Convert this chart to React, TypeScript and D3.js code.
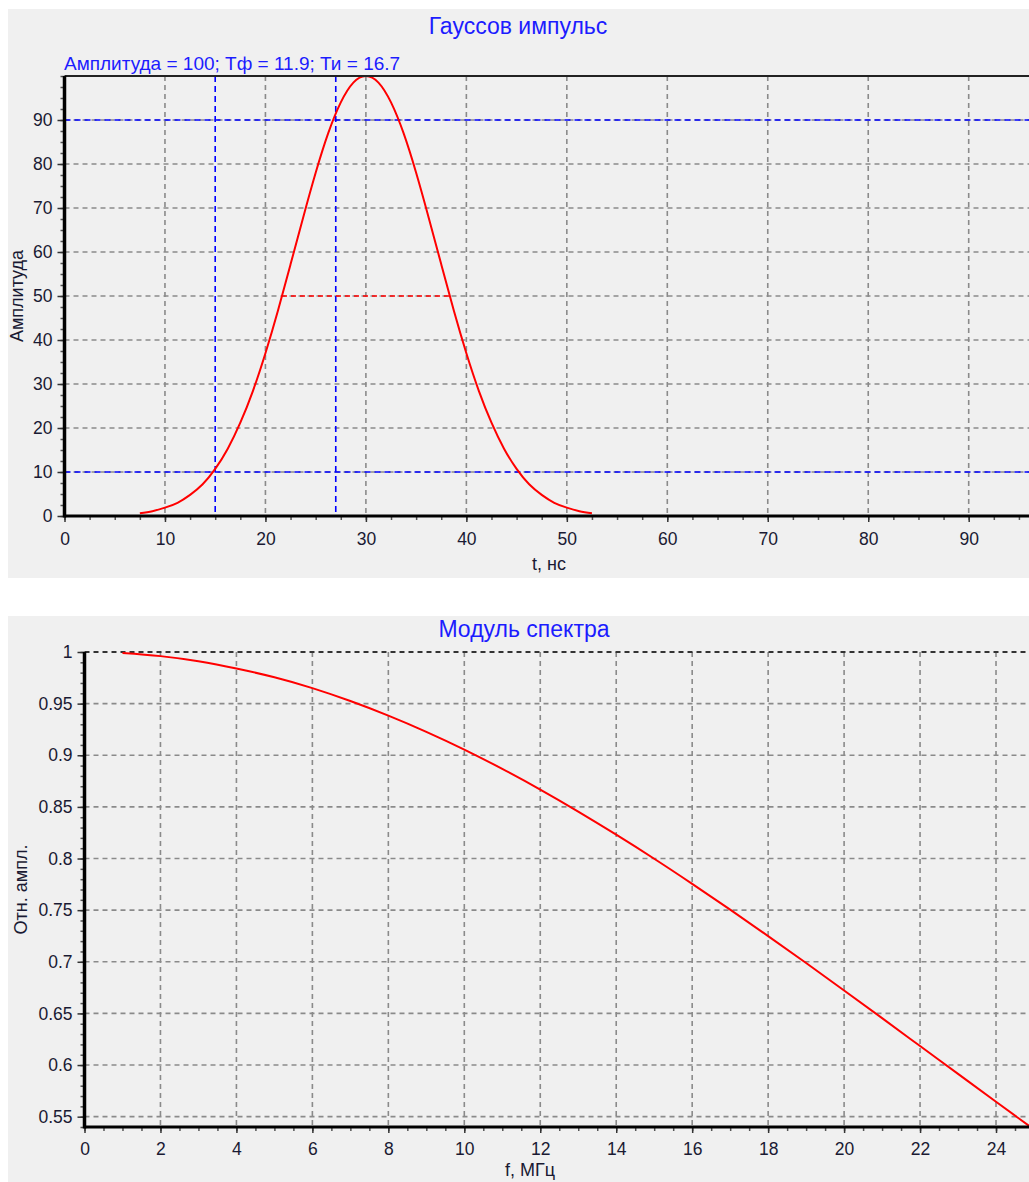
import { useEffect, useRef } from 'react';
import * as d3 from 'd3';

// Gaussian pulse
const pulseTime = [7.5, 8.75, 10, 11.25, 12.5, 13.75, 15, 16.25, 17.5, 18.75, 20, 21.25, 22.5, 23.75, 25, 26.25, 27.5, 28.75, 30,
    31.25, 32.5, 33.75, 35, 36.25, 37.5, 38.75, 40, 41.25, 42.5, 43.75, 45, 46.25, 47.5, 48.75, 50, 51.25, 52.5];
const pulseAmp = [0.65, 1.1, 1.9, 3.0, 4.8, 7.2, 10.7, 15.3, 21.2, 28.4, 37.0, 46.7, 57.2, 67.8, 78.0, 87.0, 94.0, 98.5, 100,
    98.5, 94.0, 87.0, 78.0, 67.8, 57.2, 46.7, 37.0, 28.4, 21.2, 15.3, 10.7, 7.2, 4.8, 3.0, 1.9, 1.1, 0.65];
const pulseXTicks = [0, 10, 20, 30, 40, 50, 60, 70, 80, 90];
const pulseYTicks = [0, 10, 20, 30, 40, 50, 60, 70, 80, 90];
const levelLines = [10, 90];
const levelTimes = [15, 27];
const halfLevel = 50;
const halfTimes = [21.65, 38.35];

// spectrum modulus, lower chart
const specFreq = [1, 2, 3, 4, 5, 6, 7, 8, 9, 10, 11, 12, 13, 14, 15, 16, 17, 18, 19, 20, 21, 22, 23, 24, 25];
const specAmp = [0.999, 0.996, 0.991, 0.984, 0.9755, 0.965, 0.9525, 0.9384, 0.9227, 0.9055, 0.8868, 0.8668, 0.8455, 0.8231,
    0.7998, 0.7755, 0.7505, 0.7249, 0.6988, 0.6722, 0.6454, 0.6184, 0.5914, 0.5644, 0.5376];
const specXTicks = [0, 2, 4, 6, 8, 10, 12, 14, 16, 18, 20, 22, 24];
const specYTicks = [0.55, 0.6, 0.65, 0.7, 0.75, 0.8, 0.85, 0.9, 0.95, 1];

const FONT = '"Liberation Sans", Arial, sans-serif';
const BLUE = '#1c1cff';
const INK = '#1a1a33';
const GRID = '#8a8a8a';

function drawPanel(svg, o) {
    const g = svg.append('g');
    g.append('rect').attr('x', 8).attr('y', o.bgTop).attr('width', 1021).attr('height', o.bgBottom - o.bgTop).attr('fill', '#f0f0f0');

    const x = d3.scaleLinear().domain(o.xDomain).range([o.left, o.right]);
    const y = d3.scaleLinear().domain(o.yDomain).range([o.bottom, o.top]);

    const clipId = 'clip' + o.id;
    g.append('clipPath').attr('id', clipId).append('rect')
        .attr('x', o.left).attr('y', o.top - 2).attr('width', o.right - o.left).attr('height', o.bottom - o.top + 2);

    /** grid */
    g.append('g').selectAll('line').data(o.xTicks.filter(d => d !== o.xDomain[0])).enter().append('line')
        .attr('x1', d => x(d)).attr('x2', d => x(d)).attr('y1', o.top).attr('y2', o.bottom)
        .attr('stroke', GRID).attr('stroke-width', 1.6).attr('stroke-dasharray', '5,4');
    g.append('g').selectAll('line').data(o.yTicks.filter(d => d !== o.yDomain[0])).enter().append('line')
        .attr('x1', o.left).attr('x2', o.right).attr('y1', d => y(d)).attr('y2', d => y(d))
        .attr('stroke', d => d === o.yDomain[1] ? '#333' : GRID).attr('stroke-width', d => d === o.yDomain[1] ? 2 : 1.6)
        .attr('stroke-dasharray', '5,4');

    if (o.extras) o.extras(g, x, y);

    /** curve */
    const line = d3.line().x(d => x(d[0])).y(d => y(d[1])).curve(d3.curveNatural);
    g.append('path').datum(o.xs.map((v, i) => [v, o.ys[i]]))
        .attr('clip-path', `url(#${clipId})`)
        .attr('d', line).attr('fill', 'none').attr('stroke', '#ff0000').attr('stroke-width', 2);

    if (o.topBorder) {
        g.append('line').attr('x1', o.left).attr('x2', o.right).attr('y1', o.top).attr('y2', o.top)
            .attr('stroke', '#222').attr('stroke-width', 2);
    }

    /** Axis */
    const minorX = d3.range(o.xDomain[0], o.xDomain[1], o.xMinor);
    const minorY = d3.range(o.yTicks[0] - o.yMinor * Math.floor((o.yTicks[0] - o.yDomain[0]) / o.yMinor), o.yDomain[1] + 1e-9, o.yMinor);

    const ax = g.append('g').attr('transform', `translate(0,${o.bottom})`)
        .call(d3.axisBottom(x).tickValues(minorX).tickSize(4).tickFormat(() => ''));
    ax.select('.domain').remove();
    ax.selectAll('line').attr('stroke', '#555').attr('stroke-width', 1.5);
    const axM = g.append('g').attr('transform', `translate(0,${o.bottom})`)
        .call(d3.axisBottom(x).tickValues(o.xTicks).tickSize(6).tickPadding(o.xPad).tickFormat(d => String(d)));
    axM.select('.domain').remove();
    axM.selectAll('line').attr('stroke', '#333').attr('stroke-width', 1.5);
    axM.selectAll('text').attr('fill', INK).style('font', `17.5px ${FONT}`);

    const ay = g.append('g').attr('transform', `translate(${o.left},0)`)
        .call(d3.axisLeft(y).tickValues(minorY).tickSize(4).tickFormat(() => ''));
    ay.select('.domain').remove();
    ay.selectAll('line').attr('stroke', '#555').attr('stroke-width', 1.5);
    const ayM = g.append('g').attr('transform', `translate(${o.left},0)`)
        .call(d3.axisLeft(y).tickValues(o.yTicks).tickSize(7).tickPadding(5).tickFormat(d => String(d)));
    ayM.select('.domain').remove();
    ayM.selectAll('line').attr('stroke', '#333').attr('stroke-width', 1.5);
    ayM.selectAll('text').attr('fill', INK).style('font', `17.5px ${FONT}`);

    g.append('line').attr('x1', o.left).attr('x2', o.right).attr('y1', o.bottom).attr('y2', o.bottom)
        .attr('stroke', '#000').attr('stroke-width', 3);
    g.append('line').attr('x1', o.left).attr('x2', o.left).attr('y1', o.top).attr('y2', o.bottom + 1.5)
        .attr('stroke', '#000').attr('stroke-width', 3.5);

    /** Labels */
    g.append('text').attr('x', o.titleX).attr('y', o.titleY).attr('text-anchor', 'middle')
        .attr('fill', BLUE).style('font', `23px ${FONT}`).text(o.title);
    g.append('text').attr('x', o.xLabelX).attr('y', o.xLabelY).attr('text-anchor', 'middle')
        .attr('fill', INK).style('font', `18px ${FONT}`).text(o.xLabel);
    g.append('text').attr('transform', `translate(${o.yLabelX},${(o.top + o.bottom) / 2}) rotate(-90)`)
        .attr('text-anchor', 'middle').attr('dominant-baseline', 'central')
        .attr('fill', INK).style('font', `18px ${FONT}`).text(o.yLabel);
}

function App() {
    const node = useRef(null);
    useEffect(() => {
        if (!node.current) return;
        const svg = d3.select(node.current);
        svg.selectAll('*').remove();

        drawPanel(svg, {
            id: 'pulse', bgTop: 9, bgBottom: 578,
            left: 64.5, right: 1034, top: 76, bottom: 516,
            xDomain: [0, 96.5], yDomain: [0, 100], xTicks: pulseXTicks, yTicks: pulseYTicks,
            xMinor: 2.5, yMinor: 2.5, xPad: 11,
            xs: pulseTime, ys: pulseAmp, topBorder: true,
            title: 'Гауссов импульс', titleX: 518, titleY: 34,
            xLabel: 't, нс', xLabelX: 549, xLabelY: 570,
            yLabel: 'Амплитуда', yLabelX: 17,
            extras: (g, x, y) => {
                g.append('g').selectAll('line').data(levelLines).enter().append('line')
                    .attr('x1', 64.5).attr('x2', 1034).attr('y1', d => y(d)).attr('y2', d => y(d))
                    .attr('stroke', '#0000ff').attr('stroke-width', 1.6).attr('stroke-dasharray', '6,4');
                g.append('g').selectAll('line').data(levelTimes).enter().append('line')
                    .attr('x1', d => x(d)).attr('x2', d => x(d)).attr('y1', 76).attr('y2', 516)
                    .attr('stroke', '#0000ff').attr('stroke-width', 1.6).attr('stroke-dasharray', '6,4');
                g.append('line').attr('x1', x(halfTimes[0])).attr('x2', x(halfTimes[1]))
                    .attr('y1', y(halfLevel)).attr('y2', y(halfLevel))
                    .attr('stroke', '#ff0000').attr('stroke-width', 1.5).attr('stroke-dasharray', '5,4');
                g.append('text').attr('x', 64).attr('y', 70).attr('fill', BLUE).style('font', `19px ${FONT}`)
                    .text('Амплитуда = 100; Тф = 11.9; Ти = 16.7');
            }
        });

        drawPanel(svg, {
            id: 'spec', bgTop: 616, bgBottom: 1182,
            left: 84.5, right: 1034, top: 652, bottom: 1127,
            xDomain: [0, 25], yDomain: [0.54, 1], xTicks: specXTicks, yTicks: specYTicks,
            xMinor: 0.5, yMinor: 0.01, xPad: 10,
            xs: specFreq, ys: specAmp, topBorder: false,
            title: 'Модуль спектра', titleX: 524, titleY: 637,
            xLabel: 'f, МГц', xLabelX: 530, xLabelY: 1176,
            yLabel: 'Отн. ампл.', yLabelX: 21,
        });
    }, [node]);

    return (
        <svg ref={node} width={1029} height={1182}
            style={{ position: 'absolute', left: 0, top: 0, display: 'block' }}></svg>
    );
}

export default App;
